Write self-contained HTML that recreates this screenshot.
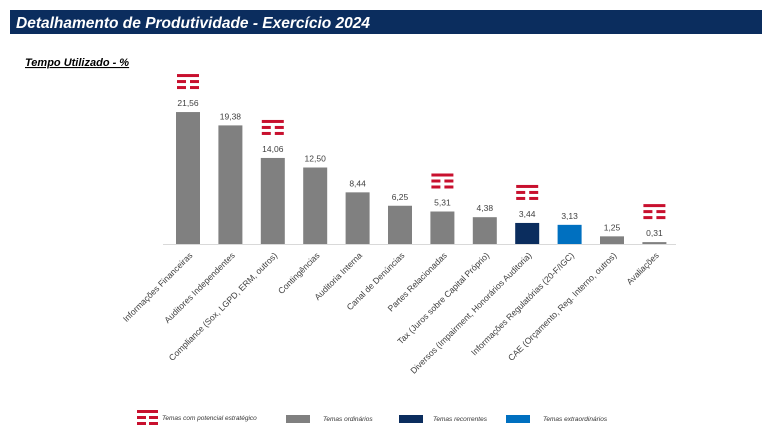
<!DOCTYPE html>
<html><head><meta charset="utf-8"><style>
body{margin:0;width:772px;height:434px;background:#fff;overflow:hidden;font-family:"Liberation Sans",sans-serif}
</style></head><body>
<svg width="772" height="434" id="svg">
<rect x="10" y="10" width="752" height="24" fill="#0b2d5e"/>
<text x="16" y="28" fill="#fff" font-size="15.5" font-weight="bold" font-style="italic">Detalhamento de Produtividade - Exercício 2024</text>
<text x="25" y="66" fill="#000" font-size="11" font-weight="bold" font-style="italic" text-decoration="underline">Tempo Utilizado - %</text>
<line x1="163" y1="244.5" x2="676" y2="244.5" stroke="#d9d9d9"/>
<g id="bars"></g>
<g id="legend" font-size="6.5" font-style="italic" fill="#333">
<g>
<rect x="137" y="410" width="21" height="3" fill="#c8102e"/><rect x="137" y="416" width="9" height="3" fill="#c8102e"/><rect x="149" y="416" width="9" height="3" fill="#c8102e"/><rect x="137" y="422" width="9" height="3" fill="#c8102e"/><rect x="149" y="422" width="9" height="3" fill="#c8102e"/>
<text x="162" y="420">Temas com potencial estratégico</text></g>
<g><rect x="286" y="415" width="24" height="8" fill="#808080"/><text x="323" y="421">Temas ordinários</text></g>
<g><rect x="399" y="415" width="24" height="8" fill="#0b2d5e"/><text x="433" y="421">Temas recorrentes</text></g>
<g><rect x="506" y="415" width="24" height="8" fill="#0070c0"/><text x="543" y="421">Temas extraordinários</text></g>
</g>
</svg>
<script>
const categories=["Informações Financeiras","Auditores Independentes","Compliance (Sox, LGPD, ERM, outros)","Contingências","Auditoria Interna","Canal de Denúncias","Partes Relacionadas","Tax (Juros sobre Capital Próprio)","Diversos (Impairment, Honorários Auditoria)","Informações Regulatórias (20-F/IGC)","CAE (Orçamento, Reg. Interno, outros)","Avaliações"];
const values=[21.56,19.38,14.06,12.50,8.44,6.25,5.31,4.38,3.44,3.13,1.25,0.31];
const types=["o","o","o","o","o","o","o","o","r","e","o","o"];
const strategic=[1,0,1,0,0,0,1,0,1,0,0,1];
const colors={o:"#808080",r:"#0b2d5e",e:"#0070c0"};
const base=244,scale=6.12,x0=188,step=42.4,bw=24;
const xs=i=>x0+i*step, ys=v=>base-v*scale;
const g=document.getElementById('bars');const NS="http://www.w3.org/2000/svg";
function mk(t,a){const e=document.createElementNS(NS,t);for(const k in a)e.setAttribute(k,a[k]);return e;}
values.forEach((v,i)=>{
const cx=xs(i),y=ys(v);
const r=mk('rect',{x:cx-bw/2,y:y,width:bw,height:base-y,fill:colors[types[i]]});


g.appendChild(r);
const t=mk('text',{x:cx,y:y-6,'text-anchor':'middle','font-size':'8.5',fill:'#404040'});
t.textContent=v.toFixed(2).replace('.',',');


g.appendChild(t);
const l=mk('text',{x:cx+5,y:base+12,'text-anchor':'end','font-size':'8.6',fill:'#404040',transform:`rotate(-45 ${cx+5} ${base+12})`});
l.textContent=categories[i];


g.appendChild(l);
if(strategic[i]){
const ic=mk('g',{fill:'#c8102e'});


const top=y-38;
[[-11,0,22],[-11,6,9],[2,6,9],[-11,12,9],[2,12,9]].forEach(a=>ic.appendChild(mk('rect',{x:cx+a[0],y:top+a[1],width:a[2],height:3})));
g.appendChild(ic);}
});
</script>
</body></html>
